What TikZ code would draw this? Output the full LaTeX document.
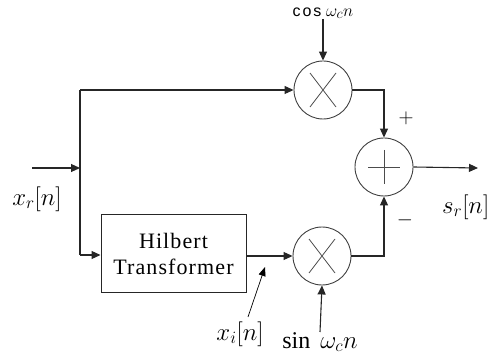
\documentclass[tikz,border=0pt]{standalone}
\usepackage{fontspec}
\setmainfont{Liberation Serif}
\setsansfont{Liberation Sans}
\usetikzlibrary{arrows.meta,calc}
\begin{document}
\begin{tikzpicture}[x=1pt,y=-1pt,
  wire/.style={line width=1.1pt,draw=black!85},
  arr/.style={wire,-{Triangle[length=9pt,width=8pt]}},
  opcirc/.style={circle,draw=black!75,line width=0.9pt,minimum size=58pt,inner sep=0pt},
  blk/.style={rectangle,draw=black!85,line width=1pt,minimum width=145pt,minimum height=77pt,align=center,font=\fontsize{22}{26}\selectfont\addfontfeature{LetterSpace=5}},
  lbl/.style={font=\fontsize{24}{26}\selectfont,inner sep=0pt},
  sgn/.style={font=\fontsize{20}{22}\selectfont,inner sep=0pt}]
\useasboundingbox (0,0) rectangle (490,358);
% blocks
\node[opcirc] (m1) at (323,90) {};
\node[opcirc] (s) at (384,167) {};
\node[opcirc] (m2) at (322,256) {};
\node[blk] (h) at (173.5,253.5) {Hilbert\\Transformer};
% symbols inside
\draw[black!70,line width=0.8pt] ($(m1)+(-13,-17)$) -- ($(m1)+(13,17)$) ($(m1)+(13,-17)$) -- ($(m1)+(-13,17)$);
\draw[black!70,line width=0.8pt] ($(m2)+(-13,-17)$) -- ($(m2)+(13,17)$) ($(m2)+(13,-17)$) -- ($(m2)+(-13,17)$);
\draw[black!70,line width=0.8pt] ($(s)+(-16,0)$) -- ($(s)+(16,0)$) ($(s)+(0,-17)$) -- ($(s)+(0,17)$);
% coordinates
\coordinate (in) at (32,168);
\coordinate (j) at (80,168);
\coordinate (jt) at (80,90);
\coordinate (jb) at (80,255);
\coordinate (out) at (478,168);
\coordinate (xiA) at (248,317);
\coordinate (xiB) at (265,267);
% labels
\node[lbl,font=\fontsize{19}{21}\selectfont] (cosl) at (323,13) {{\sffamily\fontsize{16}{18}\selectfont\addfontfeature{LetterSpace=12}cos} $\omega_c n$};
\node[lbl] (sinl) at (320,342) {sin\, $\omega_c n$};
\node[lbl] (xr) at (37,199) {$x_r[n]$};
\node[lbl] (xi) at (240,334) {$x_i[n]$};
\node[lbl,anchor=west] (sr) at (442,207) {$s_r[n]$};
\node[sgn] (plus) at (406,118) {$+$};
\node[sgn] (minus) at (405,220) {$-$};
% wires
\draw[arr] (in) -- (j);
\draw[wire] (jt) -- (jb);
\draw[arr] (jt) -- (m1.west);
\draw[arr] (jb) -- (h.west |- jb);
\draw[arr] (h.east |- m2) -- (m2.west);
\draw[arr] (cosl.south) -- (m1.north);
\draw[arr] (sinl.north) -- (m2.south);
\draw[arr] (m1.east) -| (s.north);
\draw[arr] (m2.east) -| (s.south);
\draw[arr] (s.east) -- (out);
\draw[line width=0.7pt,-{Triangle[length=9pt,width=7pt]}] (xiA) -- (xiB);
\end{tikzpicture}
\end{document}
